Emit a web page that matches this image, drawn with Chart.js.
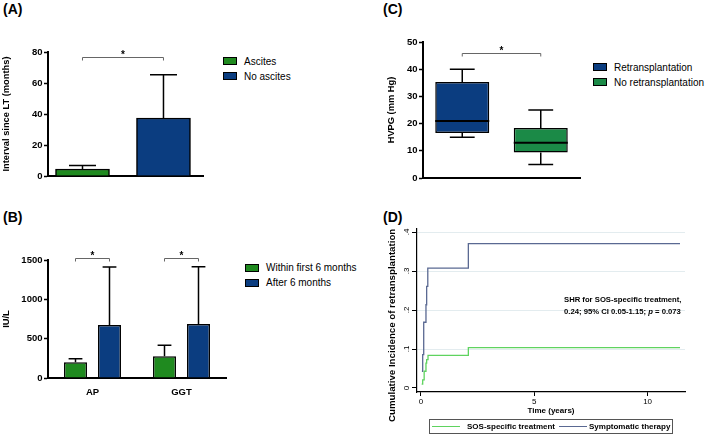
<!DOCTYPE html>
<html><head><meta charset="utf-8">
<script src="https://cdn.jsdelivr.net/npm/chart.js@4.4.0/dist/chart.umd.min.js"></script>
<style>
body{margin:0;width:709px;height:446px;background:#fff;position:relative;overflow:hidden;font-family:"Liberation Sans",Arial,Helvetica,sans-serif;color:#000}
canvas{position:absolute}
.lbl{position:absolute;font-weight:bold;font-size:14px;line-height:14px}
.leg{position:absolute;font-size:10px}
.leg .it{height:15px;display:flex;align-items:center;white-space:nowrap}
.leg .bx{width:14px;height:8px;border:1px solid #000;box-sizing:border-box;margin-right:7px}
#ytD{position:absolute;font-weight:bold;font-size:9.7px;line-height:12px;white-space:nowrap;writing-mode:vertical-rl;transform:rotate(180deg);left:386px;top:220px;height:210px;text-align:center;color:#000}
#annD{position:absolute;left:564px;top:294px;font-weight:bold;font-size:7.7px;line-height:12px;white-space:nowrap}
#legD{position:absolute;left:429px;top:419px;width:244px;height:15px;border:1px solid #555;box-sizing:border-box;display:flex;align-items:center;font-weight:bold;font-size:8px;white-space:nowrap;padding-left:2px}
#legD .ln{width:28px;height:1.4px}
</style></head>
<body>
<div class="lbl" style="left:3px;top:2px">(A)</div>
<div class="lbl" style="left:3px;top:210px">(B)</div>
<div class="lbl" style="left:383px;top:2px">(C)</div>
<div class="lbl" style="left:383px;top:210px">(D)</div>

<canvas id="cA" width="215" height="160" style="left:0;top:30px"></canvas>
<canvas id="cB" width="240" height="170" style="left:0;top:230px"></canvas>
<canvas id="cC" width="210" height="160" style="left:380px;top:30px"></canvas>
<canvas id="cD" width="329" height="246" style="left:380px;top:200px"></canvas>

<div class="leg" id="legA" style="left:223px;top:53.5px"></div>
<div class="leg" id="legB" style="left:245px;top:260px"></div>
<div class="leg" id="legC" style="left:593px;top:59.5px"></div>
<div id="ytD">Cumulative Incidence of retransplantation</div>
<div id="annD">SHR for SOS-specific treatment,<br>0.24; 95% CI 0.05-1.15; <i>p</i> = 0.073</div>
<div id="legD"></div>

<script>
// ---------- DATA ----------
// Panel A
const catA = ['Ascites', 'No ascites'];
const meanA = [4.5, 37.4];
const errTopA = [6.7, 65.4];
const ticksA = [0, 20, 40, 60, 80];
const titleA = 'Interval since LT (months)';

// Panel B
const catB = ['AP', 'GGT'];
const seriesB = ['Within first 6 months', 'After 6 months'];
const meanB1 = [200, 275];
const errTopB1 = [245, 415];
const meanB2 = [673, 686];
const errTopB2 = [1410, 1414];
const ticksB = [0, 500, 1000, 1500];
const titleB = 'IU/L';

// Panel C (box plots)
const catC = ['Retransplantation', 'No retransplantation'];
const minC = [15, 5];
const q1C = [16.5, 9.4];
const medC = [21, 13];
const q3C = [35.3, 18.4];
const maxC = [40, 25];
const ticksC = [0, 10, 20, 30, 40, 50];
const titleC = 'HVPG (mm Hg)';

// Panel D (cumulative incidence, step functions)
const seriesD = ['SOS-specific treatment', 'Symptomatic therapy'];
const timeSOS = [0.03, 0.075, 0.14, 0.22, 0.25, 0.31, 2.09, 11.43];
const ciSOS   = [0.010, 0.021, 0.043, 0.064, 0.073, 0.084, 0.104, 0.104];
const timeSym = [0.04, 0.075, 0.12, 0.22, 0.25, 0.30, 2.09, 11.43];
const ciSym   = [0.043, 0.086, 0.169, 0.214, 0.261, 0.308, 0.371, 0.371];
const xTicksD = [0, 5, 10];
const yTicksD = [0, 0.1, 0.2, 0.3, 0.4];
const yLabelsD = ['0', '.1', '.2', '.3', '.4'];

// ---------- STYLE ----------
const FF = '"Liberation Sans", Arial, Helvetica, sans-serif';
const BLUE = '#0b3d80', GREEN = '#1f8a1f', GREENC = '#1b8a47';
const D_GREEN = '#5fd35f', D_BLUE = '#5a6992';

function legendHTML(id, labels, colors) {
  document.getElementById(id).innerHTML = labels.map((l, i) =>
    `<div class="it"><span class="bx" style="background:${colors[i]}"></span>${l}</div>`).join('');
}
legendHTML('legA', catA, [GREEN, BLUE]);
legendHTML('legB', seriesB, [GREEN, BLUE]);
legendHTML('legC', catC, [BLUE, GREENC]);
document.getElementById('legD').innerHTML =
  `<span class="ln" style="background:${D_GREEN}"></span><span style="margin-left:7px">${seriesD[0]}</span>` +
  `<span class="ln" style="background:${D_BLUE};margin-left:4px"></span><span style="margin-left:2px">${seriesD[1]}</span>`;

const gp = {
  id: 'gp',
  afterDatasetsDraw(chart, args, opts) {
    const ctx = chart.ctx, y = chart.scales.y;
    ctx.save();
    ctx.strokeStyle = '#000'; ctx.lineWidth = 1.5;
    (opts.errors || []).forEach((arr, di) => {
      const meta = chart.getDatasetMeta(di);
      arr.forEach((v, i) => {
        const bar = meta.data[i]; if (!bar) return;
        const top = y.getPixelForValue(v), hw = bar.width * opts.capFrac;
        ctx.beginPath();
        ctx.moveTo(bar.x, bar.y); ctx.lineTo(bar.x, top);
        ctx.moveTo(bar.x - hw, top); ctx.lineTo(bar.x + hw, top);
        ctx.stroke();
      });
    });
    if (opts.box) {
      const b = opts.box, meta = chart.getDatasetMeta(0);
      meta.data.forEach((bar, i) => {
        const hw = bar.width * b.capFrac;
        const pMin = y.getPixelForValue(b.min[i]), pMax = y.getPixelForValue(b.max[i]);
        const pQ1 = y.getPixelForValue(b.q1[i]), pQ3 = y.getPixelForValue(b.q3[i]);
        const pMed = y.getPixelForValue(b.med[i]);
        ctx.lineWidth = 1.5;
        ctx.beginPath();
        ctx.moveTo(bar.x, pQ3); ctx.lineTo(bar.x, pMax);
        ctx.moveTo(bar.x - hw, pMax); ctx.lineTo(bar.x + hw, pMax);
        ctx.moveTo(bar.x, pQ1); ctx.lineTo(bar.x, pMin);
        ctx.moveTo(bar.x - hw, pMin); ctx.lineTo(bar.x + hw, pMin);
        ctx.stroke();
        ctx.lineWidth = 2;
        ctx.beginPath();
        ctx.moveTo(bar.x - bar.width / 2, pMed); ctx.lineTo(bar.x + bar.width / 2, pMed);
        ctx.stroke();
      });
    }
    (opts.brackets || []).forEach(br => {
      const a = chart.getDatasetMeta(br.a[0]).data[br.a[1]];
      const c = chart.getDatasetMeta(br.b[0]).data[br.b[1]];
      const py = Math.round(y.getPixelForValue(br.y)) + 0.5;
      ctx.strokeStyle = '#666'; ctx.lineWidth = 1;
      ctx.beginPath();
      ctx.moveTo(a.x, py + 3); ctx.lineTo(a.x, py); ctx.lineTo(c.x, py); ctx.lineTo(c.x, py + 3);
      ctx.stroke();
      ctx.fillStyle = '#000'; ctx.font = 'bold 10px ' + FF;
      ctx.textAlign = 'center'; ctx.textBaseline = 'alphabetic';
      ctx.fillText('*', (a.x + c.x) / 2, py);
    });
    ctx.restore();
  }
};

function gpY(min, max, ticks, title, titlePad, width) {
  return {
    type: 'linear', min, max,
    afterBuildTicks: s => { s.ticks = ticks.map(v => ({ value: v })); },
    ticks: { color: '#000', font: { family: FF, size: 9.5, weight: 'bold' }, padding: 1.5, callback: v => String(v) },
    grid: { drawOnChartArea: false, drawTicks: true, tickLength: 4, tickWidth: 1.5, tickColor: '#000' },
    border: { color: '#000', width: 2 },
    title: { display: true, text: title, color: '#000', font: { family: FF, size: 9.3, weight: 'bold' }, padding: { top: titlePad, bottom: 0 } },
    afterFit: s => { s.width = width; s.paddingTop = 0; s.paddingBottom = 0; }
  };
}
function gpX(extra, height) {
  return Object.assign({
    grid: { drawOnChartArea: false, drawTicks: false },
    border: { color: '#000', width: 2 },
    afterFit: s => { s.height = height; s.paddingLeft = 0; s.paddingRight = 0; }
  }, extra);
}
const base = { responsive: false, animation: false, events: [],
  plugins: { legend: { display: false }, tooltip: { enabled: false } } };

// ---------- PANEL A ----------
new Chart(document.getElementById('cA'), {
  type: 'bar',
  data: { datasets: [{
    data: meanA.map((v, i) => ({ x: i, y: v })),
    backgroundColor: [GREEN, BLUE], borderColor: '#000', borderWidth: 1.5, barThickness: 54
  }] },
  options: Object.assign({}, base, {
    layout: { padding: { top: 22, right: 12, left: 0, bottom: 0 } },
    plugins: Object.assign({}, base.plugins, { gp: { errors: [errTopA], capFrac: 0.25,
      brackets: [{ a: [0, 0], b: [0, 1], y: 76.8 }] } }),
    scales: {
      x: gpX({ type: 'linear', min: -0.426, max: 1.488, offset: false, ticks: { display: false } }, 14),
      y: gpY(0, 80, ticksA, titleA, 0.9, 48)
    }
  }),
  plugins: [gp]
});

// ---------- PANEL B ----------
new Chart(document.getElementById('cB'), {
  type: 'bar',
  data: { labels: catB, datasets: [
    { label: seriesB[0], data: meanB1, backgroundColor: GREEN, borderColor: '#000', borderWidth: 1.5 },
    { label: seriesB[1], data: meanB2, backgroundColor: BLUE, borderColor: '#000', borderWidth: 1.5 }
  ] },
  options: Object.assign({}, base, {
    datasets: { bar: { categoryPercentage: 0.764, barPercentage: 0.676 } },
    layout: { padding: { top: 30, right: 14, left: 0, bottom: 0 } },
    plugins: Object.assign({}, base.plugins, { gp: { errors: [errTopB1, errTopB2], capFrac: 0.3,
      brackets: [{ a: [0, 0], b: [1, 0], y: 1521 }, { a: [0, 1], b: [1, 1], y: 1521 }] } }),
    scales: {
      x: gpX({ type: 'category', ticks: { color: '#000', font: { family: FF, size: 9.5, weight: 'bold' }, padding: 9 } }, 22),
      y: gpY(0, 1500, ticksB, titleB, 1.3, 48)
    }
  }),
  plugins: [gp]
});

// ---------- PANEL C ----------
new Chart(document.getElementById('cC'), {
  type: 'bar',
  data: { labels: catC, datasets: [{
    data: q1C.map((q, i) => [q, q3C[i]]),
    backgroundColor: [BLUE, GREENC], borderColor: '#000', borderWidth: 1.5, borderSkipped: false,
    categoryPercentage: 1, barPercentage: 0.688
  }] },
  options: Object.assign({}, base, {
    layout: { padding: { top: 12, right: 10, left: 0, bottom: 0 } },
    plugins: Object.assign({}, base.plugins, { gp: {
      box: { min: minC, q1: q1C, med: medC, q3: q3C, max: maxC, capFrac: 0.23 },
      brackets: [{ a: [0, 0], b: [0, 1], y: 46 }] } }),
    scales: {
      x: gpX({ type: 'category', ticks: { display: false } }, 12),
      y: gpY(0, 50, ticksC, titleC, 6.3, 43)
    }
  }),
  plugins: [gp]
});

// ---------- PANEL D ----------
const rotY = {
  id: 'rotY',
  afterDraw(chart) {
    const s = chart.scales.y, ctx = chart.ctx;
    ctx.save();
    ctx.fillStyle = '#000'; ctx.font = '8px ' + FF;
    ctx.textAlign = 'center'; ctx.textBaseline = 'middle';
    s.ticks.forEach((t, i) => {
      ctx.save();
      ctx.translate(s.right - 10, Math.round(s.getPixelForValue(t.value)));
      ctx.rotate(-Math.PI / 2);
      ctx.fillText(yLabelsD[i], 0, 0);
      ctx.restore();
    });
    ctx.restore();
  }
};
new Chart(document.getElementById('cD'), {
  type: 'line',
  data: { datasets: [
    { label: seriesD[0], data: timeSOS.map((t, i) => ({ x: t, y: ciSOS[i] })), borderColor: D_GREEN,
      borderWidth: 1.3, stepped: true, pointRadius: 0, fill: false },
    { label: seriesD[1], data: timeSym.map((t, i) => ({ x: t, y: ciSym[i] })), borderColor: D_BLUE,
      borderWidth: 1.3, stepped: true, pointRadius: 0, fill: false }
  ] },
  options: Object.assign({}, base, {
    layout: { padding: { top: 29, right: 24, left: 0, bottom: 0 } },
    scales: {
      x: { type: 'linear', min: -0.176, max: 11.65,
        afterBuildTicks: s => { s.ticks = xTicksD.map(v => ({ value: v })); },
        ticks: { color: '#000', font: { family: FF, size: 8 }, padding: 1, maxRotation: 0 },
        grid: { drawOnChartArea: false, tickLength: 4, tickColor: '#000', tickWidth: 1 },
        border: { color: '#000', width: 1.2 },
        title: { display: true, text: 'Time (years)', color: '#000', font: { family: FF, size: 8, weight: 'bold' }, padding: { top: 0, bottom: 30 } },
        afterFit: s => { s.height = 54; s.paddingLeft = 0; s.paddingRight = 0; } },
      y: { type: 'linear', min: -0.0103, max: 0.4087,
        afterBuildTicks: s => { s.ticks = yTicksD.map(v => ({ value: v })); },
        ticks: { display: false },
        grid: { color: c => (c.tick && c.tick.value === 0) ? 'rgba(0,0,0,0)' : '#e3ecef', lineWidth: 1,
          tickLength: 5, tickColor: '#000', tickWidth: 1 },
        border: { color: '#000', width: 1.2 },
        afterFit: s => { s.width = 37; s.paddingTop = 0; s.paddingBottom = 0; } }
    }
  }),
  plugins: [rotY]
});
</script>
</body></html>
